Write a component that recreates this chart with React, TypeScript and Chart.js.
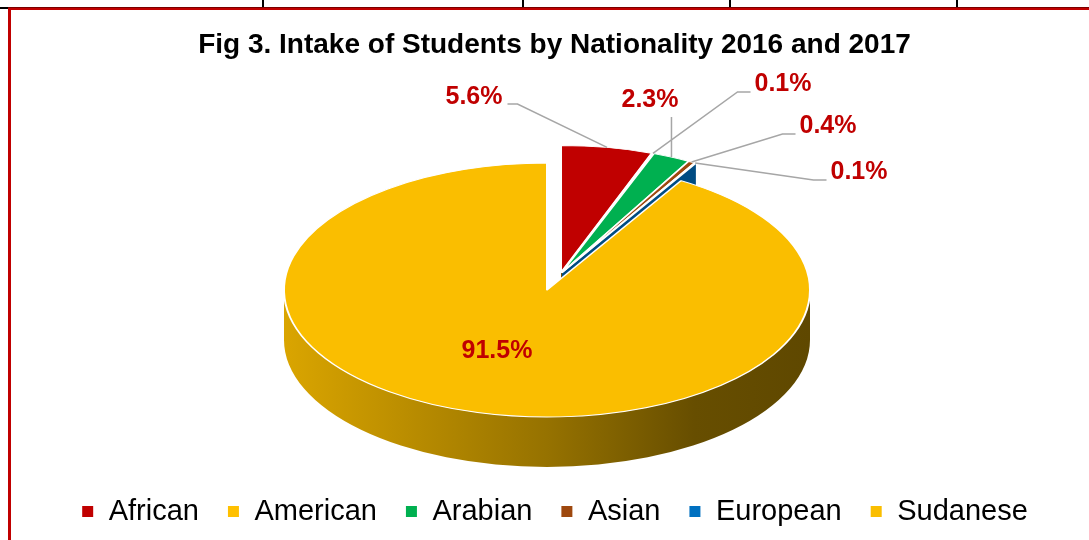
import React, { useEffect, useRef } from "react";
import { Chart, registerables } from "chart.js";

Chart.register(...registerables);

// ---- data ----
const TITLE = "Fig 3. Intake of Students by Nationality 2016 and 2017";
const categories = ["African", "American", "Arabian", "Asian", "European", "Sudanese"];
const shares = [5.6, 0.1, 2.3, 0.4, 0.1, 91.5];
const shareLabels = ["5.6%", "0.1%", "2.3%", "0.4%", "0.1%", "91.5%"];
const topColors = ["#C00000", "#FFC000", "#00B050", "#9E480E", "#0070C0", "#FABE00"];
const exploded = [1, 1, 1, 1, 1, 0];

// ---- layout / style settings ----
const TILT = 0.483;
const DEPTH = 50;
const PIE_RADIUS = 263;
const NUDGE = { x: -7.5, y: 19.7 };
const GROUP_SHIFT = { dist: 36, angle: (-68 * Math.PI) / 180 };
const SPREAD = 3;
const LABEL_OFFSETS: [number, number][] = [
  [-73, -193],
  [236, -206],
  [103, -190],
  [281, -164],
  [312, -118],
  [-50, 61],
];
const LABEL_FONT = "bold 25px 'Liberation Sans', Arial, sans-serif";
const LABEL_COLOR = "#C00000";
const LEADER_COLOR = "#A6A6A6";

function shade(hex: string, f: number) {
  const n = parseInt(hex.slice(1), 16);
  const r = Math.round(((n >> 16) & 255) * f);
  const g = Math.round(((n >> 8) & 255) * f);
  const b = Math.round((n & 255) * f);
  return `rgb(${r},${g},${b})`;
}

function sliceShift(i: number, mid: number) {
  if (!exploded[i]) return { x: 0, y: 0 };
  const gx = GROUP_SHIFT.dist * Math.cos(GROUP_SHIFT.angle) + SPREAD * Math.cos(mid);
  const gy = GROUP_SHIFT.dist * Math.sin(GROUP_SHIFT.angle) + SPREAD * Math.sin(mid);
  return { x: gx, y: gy * TILT };
}

const pie3d = {
  id: "pie3d",
  beforeDatasetsDraw(chart: any) {
    const arcs = chart.getDatasetMeta(0).data;
    if (!arcs || !arcs.length) return;
    const ctx: CanvasRenderingContext2D = chart.ctx;
    const a0 = arcs[0];
    const cx = a0.x + NUDGE.x;
    const cy = a0.y + NUDGE.y;
    ctx.save();
    // side walls and cut faces
    arcs.forEach((arc: any, i: number) => {
      const { startAngle, endAngle, outerRadius: R } = arc;
      const mid = (startAngle + endAngle) / 2;
      const s = sliceShift(i, mid);
      const X = cx + s.x;
      const Y = cy + s.y;
      for (const m of [-2 * Math.PI, 0, 2 * Math.PI]) {
        const lo = Math.max(startAngle, m);
        const hi = Math.min(endAngle, Math.PI + m);
        if (hi > lo) {
          ctx.beginPath();
          ctx.ellipse(X, Y, R, R * TILT, 0, lo, hi);
          ctx.ellipse(X, Y + DEPTH, R, R * TILT, 0, hi, lo, true);
          ctx.closePath();
          const g = ctx.createLinearGradient(X - R, 0, X + R, 0);
          g.addColorStop(0, shade(topColors[i], 0.87));
          g.addColorStop(0.5, shade(topColors[i], 0.6));
          g.addColorStop(0.78, shade(topColors[i], 0.41));
          g.addColorStop(1, shade(topColors[i], 0.38));
          ctx.fillStyle = g;
          ctx.fill();
        }
      }
      const face = (t: number) => {
        const ox = X + R * Math.cos(t);
        const oy = Y + R * TILT * Math.sin(t);
        ctx.beginPath();
        ctx.moveTo(X, Y);
        ctx.lineTo(ox, oy);
        ctx.lineTo(ox, oy + DEPTH);
        ctx.lineTo(X, Y + DEPTH);
        ctx.closePath();
        ctx.fillStyle = shade(topColors[i], 0.68);
        ctx.fill();
      };
      if (Math.cos(startAngle) < -1e-6) face(startAngle);
      if (Math.cos(endAngle) > 1e-6) face(endAngle);
    });
    // top faces, drawn by the arc elements themselves
    arcs.forEach((arc: any, i: number) => {
      const mid = (arc.startAngle + arc.endAngle) / 2;
      const s = sliceShift(i, mid);
      ctx.save();
      ctx.translate(cx + s.x, cy + s.y);
      ctx.scale(1, TILT);
      ctx.translate(-arc.x, -arc.y);
      arc.draw(ctx);
      ctx.restore();
    });
    ctx.restore();
    return false;
  },
  afterDraw(chart: any) {
    const arcs = chart.getDatasetMeta(0).data;
    if (!arcs || !arcs.length) return;
    const ctx: CanvasRenderingContext2D = chart.ctx;
    const a0 = arcs[0];
    const cx = a0.x + NUDGE.x;
    const cy = a0.y + NUDGE.y;
    ctx.save();
    ctx.font = LABEL_FONT;
    ctx.textAlign = "center";
    ctx.textBaseline = "middle";
    arcs.forEach((arc: any, i: number) => {
      const { startAngle, endAngle, outerRadius: R } = arc;
      const mid = (startAngle + endAngle) / 2;
      const s = sliceShift(i, mid);
      const lx = cx + LABEL_OFFSETS[i][0];
      const ly = cy + LABEL_OFFSETS[i][1];
      const text = shareLabels[i];
      const w = ctx.measureText(text).width;
      if (exploded[i]) {
        const px = cx + s.x + R * Math.cos(mid);
        const py = cy + s.y + R * TILT * Math.sin(mid);
        ctx.strokeStyle = LEADER_COLOR;
        ctx.lineWidth = 1.5;
        ctx.beginPath();
        if (px > lx + w / 2 + 4) {
          const sx = lx + w / 2 + 5;
          const sy = ly + 7;
          ctx.moveTo(sx, sy);
          ctx.lineTo(sx + 10, sy);
          ctx.lineTo(px, py);
        } else if (px < lx - w / 2 - 4) {
          const sx = lx - w / 2 - 4;
          const sy = ly + 8;
          ctx.moveTo(sx, sy);
          ctx.lineTo(sx - 13, sy);
          ctx.lineTo(px, py);
        } else {
          ctx.moveTo(px, ly + 17);
          ctx.lineTo(px, py);
        }
        ctx.stroke();
      }
      ctx.fillStyle = LABEL_COLOR;
      ctx.fillText(text, lx, ly);
    });
    ctx.restore();
  },
};

export default function App() {
  const ref = useRef<HTMLCanvasElement>(null);
  useEffect(() => {
    const chart = new Chart(ref.current as HTMLCanvasElement, {
      type: "pie",
      data: {
        labels: categories,
        datasets: [
          {
            data: shares,
            backgroundColor: topColors,
            borderColor: "#FFFFFF",
            borderWidth: 2,
            borderJoinStyle: "round",
          } as any,
        ],
      },
      options: {
        responsive: false,
        animation: false,
        events: [],
        radius: PIE_RADIUS,
        layout: { padding: { left: 20, right: 0, top: 10, bottom: 4 } },
        plugins: {
          title: {
            display: true,
            text: TITLE,
            color: "#000000",
            font: { family: "'Liberation Sans Narrow', 'Liberation Sans', Arial, sans-serif", size: 28, weight: "bold" },
            padding: { top: 18, bottom: 10 },
          },
          legend: {
            position: "bottom",
            labels: {
              color: "#000000",
              boxWidth: 13,
              boxHeight: 13,
              padding: 28,
              font: { family: "'Liberation Sans', Arial, sans-serif", size: 29 },
            },
          },
          tooltip: { enabled: false },
        },
      } as any,
      plugins: [pie3d as any],
    });
    return () => chart.destroy();
  }, []);

  const line = (style: React.CSSProperties, key?: any) => (
    <div key={key} style={{ position: "absolute", ...style }} />
  );

  return (
    <div style={{ position: "absolute", left: 0, top: 0, width: 1089, height: 540, background: "#FFFFFF", overflow: "hidden" }}>
      <canvas ref={ref} width={1089} height={540} style={{ position: "absolute", left: 0, top: 0, width: 1089, height: 540 }} />
      {line({ left: 0, top: 7, width: 9, height: 2, background: "#000" })}
      {[262, 522, 729, 956].map((x) => line({ left: x, top: 0, width: 2, height: 7, background: "#000" }, x))}
      {line({ left: 8, top: 7, width: 1081, height: 1, background: "#7A0000" })}
      {line({ left: 8, top: 8, width: 1081, height: 2, background: "#C00000" })}
      {line({ left: 8, top: 8, width: 3, height: 532, background: "#C00000" })}
    </div>
  );
}
